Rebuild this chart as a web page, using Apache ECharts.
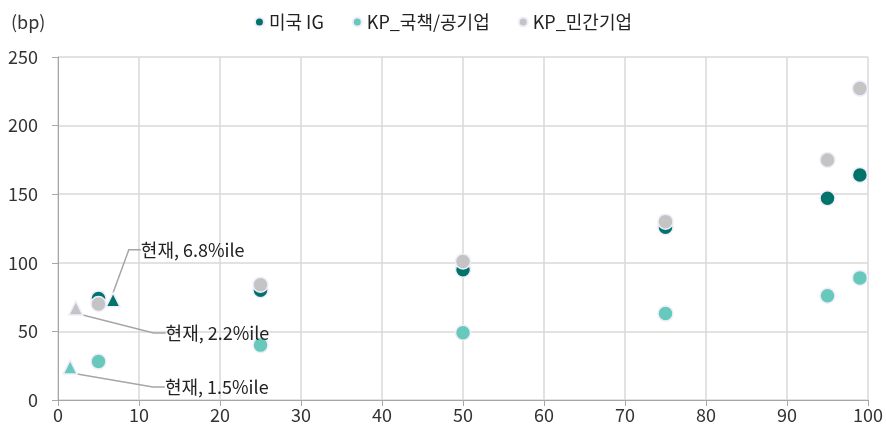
<!DOCTYPE html>
<html>
<head>
<meta charset="utf-8">
<script src="https://cdn.jsdelivr.net/npm/echarts@6/dist/echarts.min.js"></script>
<style>
  html, body { margin: 0; padding: 0; background: #fff; }
  #chart { width: 886px; height: 428px; }
</style>
</head>
<body>
<div id="chart"></div>
<script>
// 분위(percentile) 위치
const percentiles = [5, 25, 50, 75, 95, 99];
const usIG = [74, 80, 95, 126, 147, 164];
const kpPublic = [28, 40, 49, 63, 76, 89];
const kpPrivate = [70, 84, 101, 130, 175, 227];

// 현재 위치 [percentile, bp]
const usIGNow = [6.8, 73];
const kpPublicNow = [1.5, 24];
const kpPrivateNow = [2.2, 67];

const seriesNames = ['미국 IG', 'KP_국책/공기업', 'KP_민간기업'];
const colors = ['#00736b', '#66c9bb', '#c4c4c4'];

const font = 'Noto Sans CJK KR';
const chart = echarts.init(document.getElementById('chart'));

function nowPoint(pt, text) {
  return {
    value: pt,
    symbol: 'triangle',
    symbolSize: 14,
    label: {
      show: true,
      formatter: text,
      position: 'right',
      fontSize: 18,
      fontFamily: font,
      color: '#222'
    },
    labelLine: {
      show: true,
      length2: 12,
      lineStyle: { color: '#a6a6a6', width: 1.5 }
    }
  };
}

function makeSeries(i, values, now, label, dx, dy) {
  const data = percentiles.map((p, k) => [p, values[k]]);
  data.push(nowPoint(now, label));
  return {
    name: seriesNames[i],
    type: 'scatter',
    symbol: 'circle',
    symbolSize: 15,
    itemStyle: { color: colors[i], borderColor: '#f1ecfb', borderWidth: 1.5, opacity: 1 },
    labelLayout: { dx: dx, dy: dy },
    data: data
  };
}

const option = {
  animation: false,
  color: colors,
  title: {
    text: '(bp)',
    left: 6,
    top: 8,
    textStyle: { fontSize: 18, fontWeight: 'normal', fontFamily: font, color: '#333' }
  },
  legend: {
    top: 8,
    left: 'center',
    icon: 'circle',
    itemWidth: 9,
    itemHeight: 9,
    itemGap: 28,
    textStyle: { fontSize: 18, fontFamily: font, color: '#222' },
    data: seriesNames
  },
  grid: { left: 58, right: 18, top: 57, bottom: 28, containLabel: false },
  xAxis: {
    type: 'value',
    min: 0,
    max: 100,
    interval: 10,
    axisLine: { lineStyle: { color: '#a6a6a6' } },
    axisTick: { show: true, length: 6, lineStyle: { color: '#a6a6a6' } },
    axisLabel: { fontSize: 18, fontFamily: font, color: '#333', margin: 6 },
    splitLine: { show: true, lineStyle: { color: '#d9d9d9', width: 1.5 } }
  },
  yAxis: {
    type: 'value',
    min: 0,
    max: 250,
    interval: 50,
    axisLine: { show: true, lineStyle: { color: '#a6a6a6' } },
    axisTick: { show: true, length: 6, lineStyle: { color: '#a6a6a6' } },
    axisLabel: { fontSize: 18, fontFamily: font, color: '#333', margin: 20 },
    splitLine: { show: true, lineStyle: { color: '#d9d9d9', width: 1.5 } }
  },
  series: [
    makeSeries(0, usIG, usIGNow, '현재, 6.8%ile', 15, -50),
    makeSeries(1, kpPublic, kpPublicNow, '현재, 1.5%ile', 82, 20),
    makeSeries(2, kpPrivate, kpPrivateNow, '현재, 2.2%ile', 77, 25)
  ]
};

chart.setOption(option);
</script>
</body>
</html>
